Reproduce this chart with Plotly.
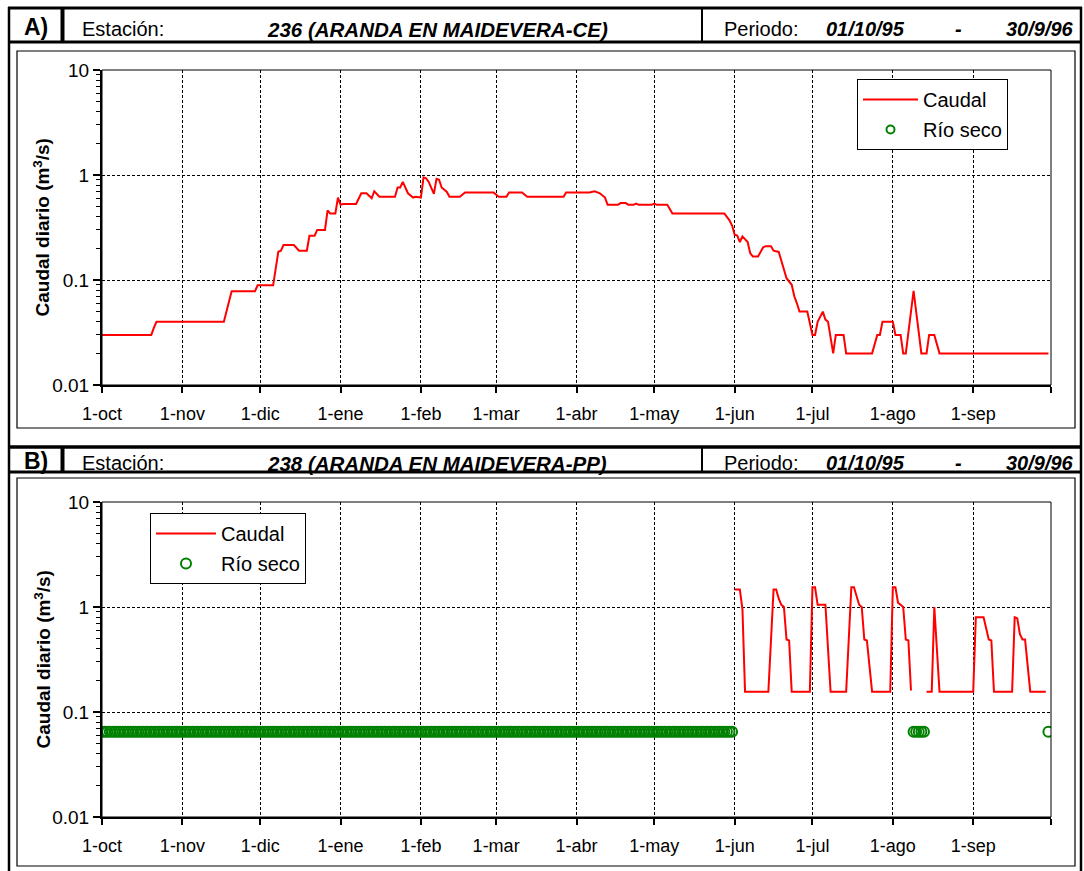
import pandas as pd
import plotly.graph_objects as go

START = pd.Timestamp("1995-10-01")

# ---------------- data (day 0 = 1-oct-1995) ----------------
# Panel A: station 236, daily flow (m3/s)
a_day = [0, 19, 20, 21, 47, 48, 50, 59, 60, 66, 67, 68, 69, 70, 74, 76, 79, 80, 82, 83,
         86, 87, 88, 90, 91, 92, 93, 98, 100, 102, 104, 105, 107, 113, 114, 115, 116, 118, 120, 121,
         123, 124, 125, 126, 128, 129, 130, 131, 133, 134, 138, 140, 151, 153, 156, 157, 162, 164, 178, 179,
         188, 190, 192, 194, 195, 199, 200, 202, 203, 205, 206, 207, 212, 213, 214, 218, 220, 240, 242, 243,
         244, 245, 246, 247, 249, 250, 251, 253, 255, 256, 258, 259, 261, 262, 264, 266, 267, 268, 269, 272,
         274, 275, 276, 278, 279, 280, 282, 283, 286, 287, 297, 299, 300, 301, 305, 306, 308, 309, 310, 313,
         316, 318, 319, 321, 323, 365]
a_flow = [0.030, 0.030, 0.035, 0.040, 0.040, 0.050, 0.078, 0.078, 0.089, 0.089, 0.13, 0.186, 0.19, 0.215, 0.215, 0.19, 0.19, 0.264, 0.264, 0.30,
          0.30, 0.46, 0.43, 0.43, 0.61, 0.52, 0.53, 0.53, 0.67, 0.67, 0.60, 0.70, 0.62, 0.62, 0.76, 0.76, 0.86, 0.67, 0.61, 0.62,
          0.61, 0.95, 0.93, 0.86, 0.66, 0.92, 0.90, 0.76, 0.69, 0.62, 0.62, 0.68, 0.68, 0.62, 0.62, 0.68, 0.68, 0.62, 0.62, 0.68,
          0.68, 0.70, 0.67, 0.61, 0.52, 0.52, 0.54, 0.54, 0.52, 0.52, 0.535, 0.52, 0.52, 0.535, 0.52, 0.52, 0.43, 0.43, 0.37, 0.33,
          0.27, 0.265, 0.23, 0.26, 0.23, 0.18, 0.167, 0.167, 0.205, 0.21, 0.21, 0.19, 0.185, 0.155, 0.104, 0.09, 0.07, 0.06, 0.05, 0.05,
          0.03, 0.03, 0.04, 0.05, 0.042, 0.04, 0.02, 0.03, 0.03, 0.02, 0.02, 0.03, 0.03, 0.04, 0.04, 0.03, 0.03, 0.02, 0.02, 0.079,
          0.02, 0.02, 0.03, 0.03, 0.02, 0.02]

# Panel B: station 238, daily flow (m3/s); None = gap (dry river)
b_day = [244, 246, 247, 248, 257, 259, 260, 261, 262, 263, 264, 265, 266, 273, 274, 275, 276, 279, 280, 281,
         287, 289, 290, 292, 293, 294, 295, 297, 304, 305, 306, 307, 308, 309, 310, 311, 312, 313,
         318, 320, 321, 323, 336, 337, 340, 341, 342, 343, 344, 351, 352, 353, 354, 355, 356, 358, 364]
b_flow = [1.47, 1.47, 0.95, 0.156, 0.156, 1.47, 1.47, 1.2, 1.05, 1.0, 0.49, 0.48, 0.156, 0.156, 1.54, 1.54, 1.05, 1.05, 0.4, 0.156,
          0.156, 1.54, 1.54, 1.05, 1.0, 0.49, 0.48, 0.156, 0.156, 1.54, 1.54, 1.1, 1.05, 1.0, 0.49, 0.48, 0.16, None,
          0.156, 0.156, 1.0, 0.156, 0.156, 0.80, 0.80, 0.6, 0.49, 0.48, 0.156, 0.156, 0.80, 0.78, 0.55, 0.49, 0.49, 0.156, 0.156]

# Panel B: days with dry river (first, last day of each period)
b_dry_periods = [(0, 243), (313, 317), (365, 365)]
DRY_LEVEL = 0.065

month_ticks = ["1995-10-01", "1995-11-01", "1995-12-01", "1996-01-01", "1996-02-01", "1996-03-01",
               "1996-04-01", "1996-05-01", "1996-06-01", "1996-07-01", "1996-08-01", "1996-09-01"]
month_labels = ["1-oct", "1-nov", "1-dic", "1-ene", "1-feb", "1-mar", "1-abr", "1-may", "1-jun",
                "1-jul", "1-ago", "1-sep"]
end_tick = ["1996-10-01"]
y_ticks = [0.01, 0.1, 1, 10]
y_labels = ["0.01", "0.1", "1", "10"]
y_minor = [m * 10 ** e for e in (-2, -1, 0) for m in range(2, 10)]

headers = [
    ("A)", "236 (ARANDA EN MAIDEVERA-CE)", "01/10/95", "30/9/96"),
    ("B)", "238 (ARANDA EN MAIDEVERA-PP)", "01/10/95", "30/9/96"),
]


def to_dates(days):
    return [None if d is None else (START + pd.Timedelta(days=d)).strftime("%Y-%m-%d") for d in days]


dry_days = []
for d0, d1 in b_dry_periods:
    dry_days.extend(range(d0, d1 + 1))

# ---------------- layout helpers ----------------
W, H = 1084, 871
FONT = "Liberation Sans, Arial, sans-serif"


def px(x):
    return x / W


def py(y):
    return 1 - y / H


fig = go.Figure()

RED = "#ff0000"
GREEN = "#008000"

# Panel A traces
fig.add_trace(go.Scatter(x=to_dates(a_day), y=a_flow, mode="lines", name="Caudal",
                         line=dict(color=RED, width=2), xaxis="x", yaxis="y",
                         legend="legend", legendgroup="a1"))
fig.add_trace(go.Scatter(x=[None], y=[None], mode="markers", name="Río seco",
                         marker=dict(symbol="circle-open", color=GREEN, size=8, line=dict(width=2)),
                         xaxis="x", yaxis="y", legend="legend", legendgroup="a2"))
# Panel B traces
fig.add_trace(go.Scatter(x=to_dates(b_day), y=b_flow, mode="lines", name="Caudal",
                         line=dict(color=RED, width=2), xaxis="x2", yaxis="y2",
                         legend="legend2", legendgroup="b1", connectgaps=False))
fig.add_trace(go.Scatter(x=to_dates(dry_days), y=[DRY_LEVEL] * len(dry_days), mode="markers", name="Río seco",
                         marker=dict(symbol="circle-open", color=GREEN, size=10, line=dict(width=2)),
                         xaxis="x2", yaxis="y2", legend="legend2", legendgroup="b2"))

plot_x = [px(102), px(1051)]
panels = [(70, 385), (502, 817)]

xcommon = dict(type="date", range=["1995-10-01", "1996-10-01"], tickmode="array",
               tickvals=month_ticks, ticktext=month_labels, ticks="outside", ticklen=6,
               tickwidth=1.5, tickcolor="black", showgrid=True, gridcolor="black", gridwidth=1,
               griddash="3px,2px", showline=True, linecolor="black", linewidth=2, automargin=False,
               ticklabelstandoff=5,
               minor=dict(tickmode="array", tickvals=end_tick, ticks="outside", ticklen=6,
                          tickwidth=1.5, tickcolor="black", showgrid=False),
               tickfont=dict(family=FONT, size=18, color="black"), zeroline=False, domain=plot_x)
ycommon = dict(type="log", range=[-2, 1], tickmode="array", tickvals=y_ticks, ticktext=y_labels,
               ticks="outside", ticklen=7, tickwidth=1.5, tickcolor="black", showgrid=True,
               gridcolor="black", gridwidth=1, griddash="3px,2px", showline=True, linecolor="black",
               linewidth=2, tickfont=dict(family=FONT, size=19, color="black"), zeroline=False,
               automargin=False,
               minor=dict(tickmode="array", tickvals=y_minor, ticks="outside", ticklen=4,
                          tickwidth=1, tickcolor="black", showgrid=False))

fig.update_layout(
    xaxis=dict(**xcommon, anchor="y"),
    yaxis=dict(**ycommon, anchor="x", domain=[py(panels[0][1]), py(panels[0][0])]),
    xaxis2=dict(**xcommon, anchor="y2"),
    yaxis2=dict(**ycommon, anchor="x2", domain=[py(panels[1][1]), py(panels[1][0])]),
)

legend_common = dict(xanchor="left", yanchor="top", bgcolor="white", bordercolor="black",
                     borderwidth=1, font=dict(family=FONT, size=20, color="black"),
                     tracegroupgap=1)
fig.update_layout(
    legend=dict(**legend_common, x=px(857), y=py(79), itemwidth=55),
    legend2=dict(**legend_common, x=px(150), y=py(513), itemwidth=60),
)

shapes = []


def hline(y, x0, x1, w):
    shapes.append(dict(type="line", xref="paper", yref="paper", x0=px(x0), x1=px(x1), y0=py(y), y1=py(y),
                       line=dict(color="black", width=w)))


def vline(x, y0, y1, w):
    shapes.append(dict(type="line", xref="paper", yref="paper", x0=px(x), x1=px(x), y0=py(y0), y1=py(y1),
                       line=dict(color="black", width=w)))


def rect(x0, y0, x1, y1, w):
    shapes.append(dict(type="rect", xref="paper", yref="paper", x0=px(x0), x1=px(x1), y0=py(y1), y1=py(y0),
                       line=dict(color="black", width=w), layer="above"))


# outer frame
vline(9, 7, 871, 2.5)
vline(1081, 7, 871, 2.5)
hline(8, 8, 1082, 3)
# header A
hline(42, 8, 1082, 3)
vline(62.5, 8, 42, 4)
vline(702, 8, 42, 2)
rect(17, 51, 1075, 428, 1.2)
# header B
hline(447, 8, 1082, 3.5)
hline(472, 8, 1082, 3)
vline(62.5, 447, 472, 4)
vline(702, 447, 472, 2)
rect(17, 478, 1075, 866, 1.2)
# plot boxes (top/right borders)
for top, bottom in panels:
    rect(102, top, 1051, bottom, 1)

annotations = []


def text(x, y, s, size=19, bold=False, italic=False, anchor="left", angle=0):
    t = s
    if bold:
        t = "<b>" + t + "</b>"
    if italic:
        t = "<i>" + t + "</i>"
    annotations.append(dict(xref="paper", yref="paper", x=px(x), y=py(y), text=t, showarrow=False,
                            xanchor=anchor, yanchor="middle", textangle=angle,
                            font=dict(family=FONT, size=size, color="black")))


for (lab, station, d0, d1), yc in zip(headers, [27, 461]):
    text(36, yc, lab, size=23, bold=True, anchor="center")
    text(80, yc + 2, "Estación:", size=20)
    text(437, yc + 2, station, size=20.5, bold=True, italic=True, anchor="center")
    text(722, yc + 2, "Periodo:", size=20)
    text(865, yc + 2, d0, size=20, bold=True, italic=True, anchor="center")
    text(958, yc + 2, "-", size=20, bold=True, italic=True, anchor="center")
    text(1040, yc + 2, d1, size=20, bold=True, italic=True, anchor="center")

for top, bottom in panels:
    text(42, (top + bottom) / 2, "Caudal diario (m<sup>3</sup>/s)", size=19, bold=True,
         anchor="center", angle=-90)

fig.update_layout(shapes=shapes, annotations=annotations, width=W, height=H, autosize=False,
                  margin=dict(l=0, r=0, t=0, b=0, pad=0, autoexpand=False),
                  paper_bgcolor="white", plot_bgcolor="white",
                  showlegend=True, font=dict(family=FONT, color="black"))

fig.write_html("out.html", config={"displayModeBar": False, "responsive": False},
               post_script="document.body.style.margin='0';document.body.style.overflow='hidden';")
